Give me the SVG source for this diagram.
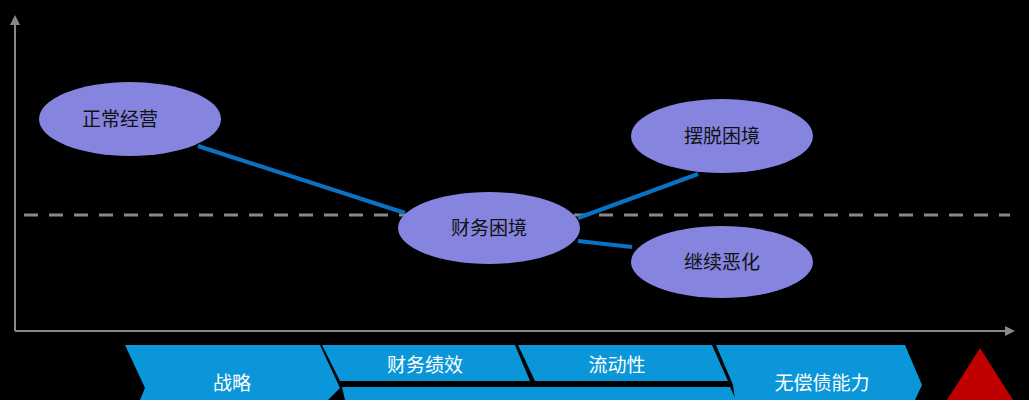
<svg xmlns="http://www.w3.org/2000/svg" width="1029" height="400" viewBox="0 0 1029 400">
<style>
.n{fill:#8585e0}
.t{font-family:"Noto Sans CJK SC",sans-serif;font-size:19px;fill:#111;text-anchor:middle}
.w{font-family:"Noto Sans CJK SC",sans-serif;font-size:19px;fill:#fff;text-anchor:middle}
.c{stroke:#0a72c4;stroke-width:4;fill:none}
.b{fill:#0a96d8}
</style>
<defs><marker id="a" markerWidth="10" markerHeight="10" refX="5" refY="5" orient="auto" markerUnits="userSpaceOnUse"><path d="M0,0L10,5L0,10z" fill="#888"/></marker></defs>
<rect width="1029" height="400" fill="#000"/>
<line x1="15" y1="331" x2="15" y2="20" stroke="#888" stroke-width="2" marker-end="url(#a)"/>
<line x1="15" y1="331" x2="1010" y2="331" stroke="#888" stroke-width="2" marker-end="url(#a)"/>
<line x1="24" y1="215" x2="1010" y2="215" stroke="#888" stroke-width="3" stroke-dasharray="14,11"/>
<g id="connectors">
<line class="c" x1="198" y1="146" x2="405" y2="213"/>
<line class="c" x1="578" y1="218" x2="698" y2="174"/>
<line class="c" x1="578" y1="241" x2="632" y2="247"/>
</g>
<g id="n1"><ellipse class="n" cx="130" cy="119" rx="91" ry="37"/><text class="t" x="120" y="126">正常经营</text></g>
<g id="n2"><ellipse class="n" cx="489" cy="228" rx="91" ry="36"/><text class="t" x="489" y="235">财务困境</text></g>
<g id="n3"><ellipse class="n" cx="722" cy="136" rx="91" ry="37"/><text class="t" x="722" y="143">摆脱困境</text></g>
<g id="n4"><ellipse class="n" cx="722" cy="262" rx="91" ry="36"/><text class="t" x="722" y="269">继续恶化</text></g>
<g id="b1"><path class="b" d="M125,345L320,345L340,388L328,400L140,400L145,388Z"/><text class="w" x="232" y="390">战略</text></g>
<g id="b2"><path class="b" d="M322,345L515,345L530,381L340,381Z"/><text class="w" x="425" y="372">财务绩效</text></g>
<g id="b3"><path class="b" d="M518,345L712,345L728,381L535,381Z"/><text class="w" x="617" y="372">流动性</text></g>
<path class="b" d="M342,387L730,387L736,400L345,400Z"/>
<g id="b4"><path class="b" d="M716,345L905,345L922,385L915,400L735,400L733,385Z"/><text class="w" x="822" y="390">无偿债能力</text></g>
<path d="M980,348L1013,400L947,400Z" fill="#c00000"/>
</svg>
